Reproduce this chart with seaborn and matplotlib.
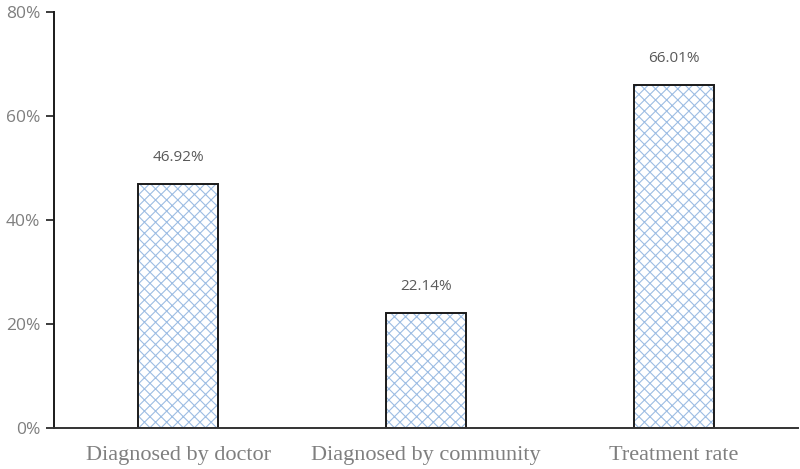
import matplotlib
matplotlib.use("Agg")
import matplotlib.pyplot as plt
import seaborn as sns
import pandas as pd
from matplotlib.ticker import FuncFormatter

categories = ["Diagnosed by doctor", "Diagnosed by community", "Treatment rate"]
values = [46.92, 22.14, 66.01]
value_labels = ["46.92%", "22.14%", "66.01%"]
yticks = [0, 20, 40, 60, 80]

sns.set_style("white")
df = pd.DataFrame({"cat": categories, "val": values})

fig = plt.figure(figsize=(8, 4.69), dpi=100)
ax = fig.add_axes([0.0675, 0.0874, 0.93, 0.887])

plt.rcParams["hatch.linewidth"] = 0.8
sns.barplot(data=df, x="cat", y="val", ax=ax, color="white", edgecolor="#9dbde3",
            hatch="xxx", linewidth=0, width=0.32, saturation=1)
sns.barplot(data=df, x="cat", y="val", ax=ax, fill=False, edgecolor="#1a1a1a",
            linewidth=1.4, width=0.32)

for i, (v, lab) in enumerate(zip(values, value_labels)):
    ax.annotate(lab, (i, v), xytext=(0, 19), textcoords="offset points",
                ha="center", va="center", fontsize=11, color="#595959",
                family="Open Sans")

ax.set_ylim(0, 80)
ax.set_xlim(-0.5, 2.5)
ax.set_yticks(yticks)
ax.yaxis.set_major_formatter(FuncFormatter(lambda y, p: f"{int(y)}%"))
ax.set_xlabel("")
ax.set_ylabel("")
for s in ["top", "right"]:
    ax.spines[s].set_visible(False)
ax.spines["left"].set_color("#1a1a1a")
ax.spines["left"].set_linewidth(1.4)
ax.spines["bottom"].set_color("#333333")
ax.spines["bottom"].set_linewidth(1.4)
ax.tick_params(axis="y", direction="out", length=6, width=1.2, color="#1a1a1a",
               labelsize=12.5, labelcolor="#7f7f7f", pad=4, left=True)
ax.tick_params(axis="x", length=0, labelsize=16, labelcolor="#7f7f7f", pad=13)
for t in ax.get_yticklabels():
    t.set_family("Open Sans")
for t in ax.get_xticklabels():
    t.set_family("Liberation Serif")

fig.savefig("out.png", dpi=100)
